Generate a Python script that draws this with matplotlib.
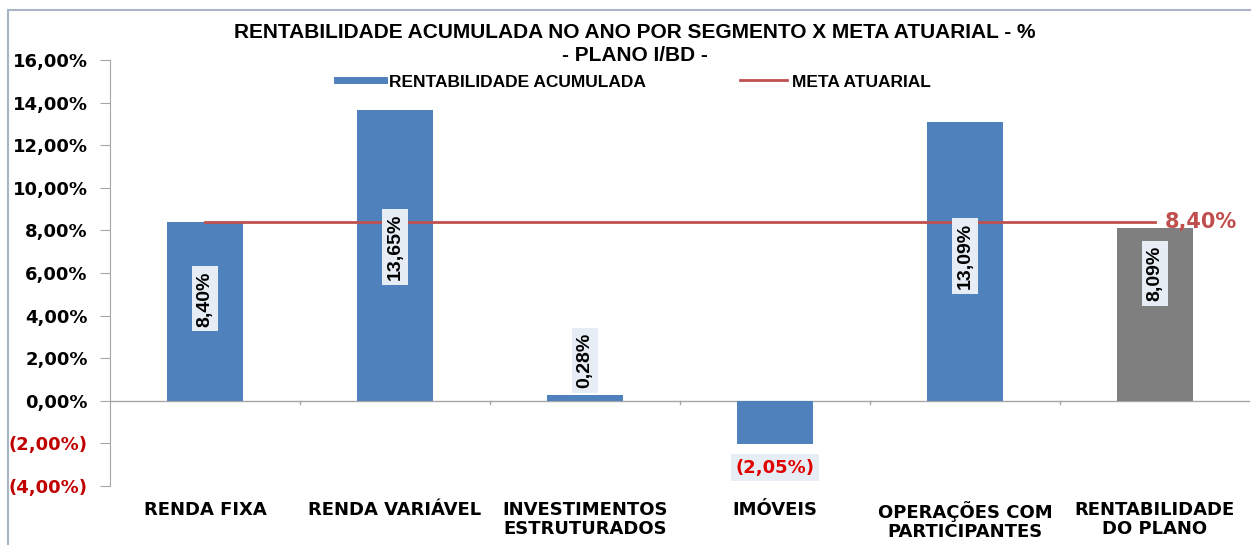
import matplotlib
matplotlib.use("Agg")
import matplotlib.pyplot as plt
from matplotlib.lines import Line2D
from matplotlib.patches import Rectangle
from matplotlib.transforms import blended_transform_factory

categories = ["RENDA FIXA", "RENDA VARIÁVEL", "INVESTIMENTOS\nESTRUTURADOS",
              "IMÓVEIS", "OPERAÇÕES COM\nPARTICIPANTES", "RENTABILIDADE\nDO PLANO"]
rentabilidade = [8.40, 13.65, 0.28, -2.05, 13.09, 8.09]
value_labels = ["8,40%", "13,65%", "0,28%", "(2,05%)", "13,09%", "8,09%"]
meta_atuarial = 8.40
meta_label = "8,40%"
yticks = [-4, -2, 0, 2, 4, 6, 8, 10, 12, 14, 16]
ytick_labels = ["(4,00%)", "(2,00%)", "0,00%", "2,00%", "4,00%", "6,00%",
                "8,00%", "10,00%", "12,00%", "14,00%", "16,00%"]
title_line1 = "RENTABILIDADE ACUMULADA NO ANO POR SEGMENTO X META ATUARIAL - %"
title_line2 = "- PLANO I/BD -"
legend_labels = ["RENTABILIDADE ACUMULADA", "META ATUARIAL"]

BLUE = "#4F81BD"
GRAY = "#7F7F7F"
RED_LINE = "#C0504D"
NEG_RED = "#C00000"
AXIS_GRAY = "#A6A6A6"
NARROW = ["Liberation Sans Narrow", "Liberation Sans", "DejaVu Sans"]
WIDE = ["DejaVu Sans"]

fig = plt.figure(figsize=(12.51, 5.45), dpi=100)
ax = fig.add_axes([110 / 1251, 1 - 486 / 545, 1140 / 1251, (486 - 60) / 545])

x = list(range(len(categories)))
colors = [GRAY if i == len(categories) - 1 else BLUE for i in x]
ax.bar(x, rentabilidade, width=0.4, color=colors, zorder=2)

# meta line from first to last category centre
ax.plot([x[0], x[-1]], [meta_atuarial, meta_atuarial], color=RED_LINE, lw=2, zorder=3)
ax.text(x[-1] + 0.05, meta_atuarial, meta_label, color=RED_LINE, fontsize=15,
        fontweight="bold", family=WIDE, ha="left", va="center", zorder=4, clip_on=False)

ax.set_xlim(-0.5, len(categories) - 0.5)
ax.set_ylim(-4, 16)
ax.set_yticks(yticks)
ax.set_yticklabels(ytick_labels, fontsize=13, fontweight="bold", family=WIDE)
for lbl, v in zip(ax.get_yticklabels(), yticks):
    lbl.set_color(NEG_RED if v < 0 else "black")
ax.tick_params(axis="y", length=7, color=AXIS_GRAY, pad=9)
ax.set_xticks([])
for s in ["top", "right", "bottom"]:
    ax.spines[s].set_visible(False)
ax.spines["left"].set_color(AXIS_GRAY)

# zero baseline with category separators
ax.axhline(0, color=AXIS_GRAY, lw=1, zorder=1)
for b in [i + 0.5 for i in x[:-1]]:
    ax.plot([b, b], [0, -0.15], color=AXIS_GRAY, lw=1, zorder=1)

# category labels
tr = blended_transform_factory(ax.transData, ax.transAxes)
for xi, c in zip(x, categories):
    ax.text(xi, -0.035, c, transform=tr, ha="center", va="top", fontsize=13,
            fontweight="bold", family=WIDE, linespacing=1.1)

# value labels
box = dict(boxstyle="square,pad=0.25", facecolor="#E6EDF5", edgecolor="none")
label_frac = [0.57, 0.53, None, None, 0.52, 0.74]
for xi, v, t, f in zip(x, rentabilidade, value_labels, label_frac):
    if v < 0:
        ax.text(xi, v - 1.1, t, ha="center", va="center", fontsize=13,
                fontweight="bold", family=WIDE, color="#E00000", bbox=box, zorder=4)
    elif f is None:
        ax.text(xi, v + 0.3, t, ha="center", va="bottom", rotation=90, fontsize=14,
                fontweight="bold", family=NARROW, color="black", bbox=box, zorder=4)
    else:
        ax.text(xi, v * f, t, ha="center", va="center", rotation=90, fontsize=14,
                fontweight="bold", family=NARROW, color="black", bbox=box, zorder=4)

# title
fig.text(635 / 1251, 1 - 32 / 545, title_line1, ha="center", va="center",
         fontsize=15, fontweight="bold", family=NARROW)
fig.text(635 / 1251, 1 - 55 / 545, title_line2, ha="center", va="center",
         fontsize=15, fontweight="bold", family=NARROW)

# legend
handles = [Line2D([], [], color=BLUE, lw=5), Line2D([], [], color=RED_LINE, lw=2)]
fig.legend(handles, legend_labels, loc="center", bbox_to_anchor=(634 / 1251, 1 - 82 / 545),
           ncol=2, frameon=False, handlelength=2.7, handletextpad=0.3, columnspacing=5.4,
           prop=dict(family=NARROW, weight="bold", size=12.5))

# outer frame
fig.patches.append(Rectangle((8 / 1251, -0.05), 1.1, 1 - 10 / 545 + 0.05,
                             transform=fig.transFigure, fill=False,
                             edgecolor="#A9B5C6", lw=1.5))

fig.savefig("out.png", dpi=100)
